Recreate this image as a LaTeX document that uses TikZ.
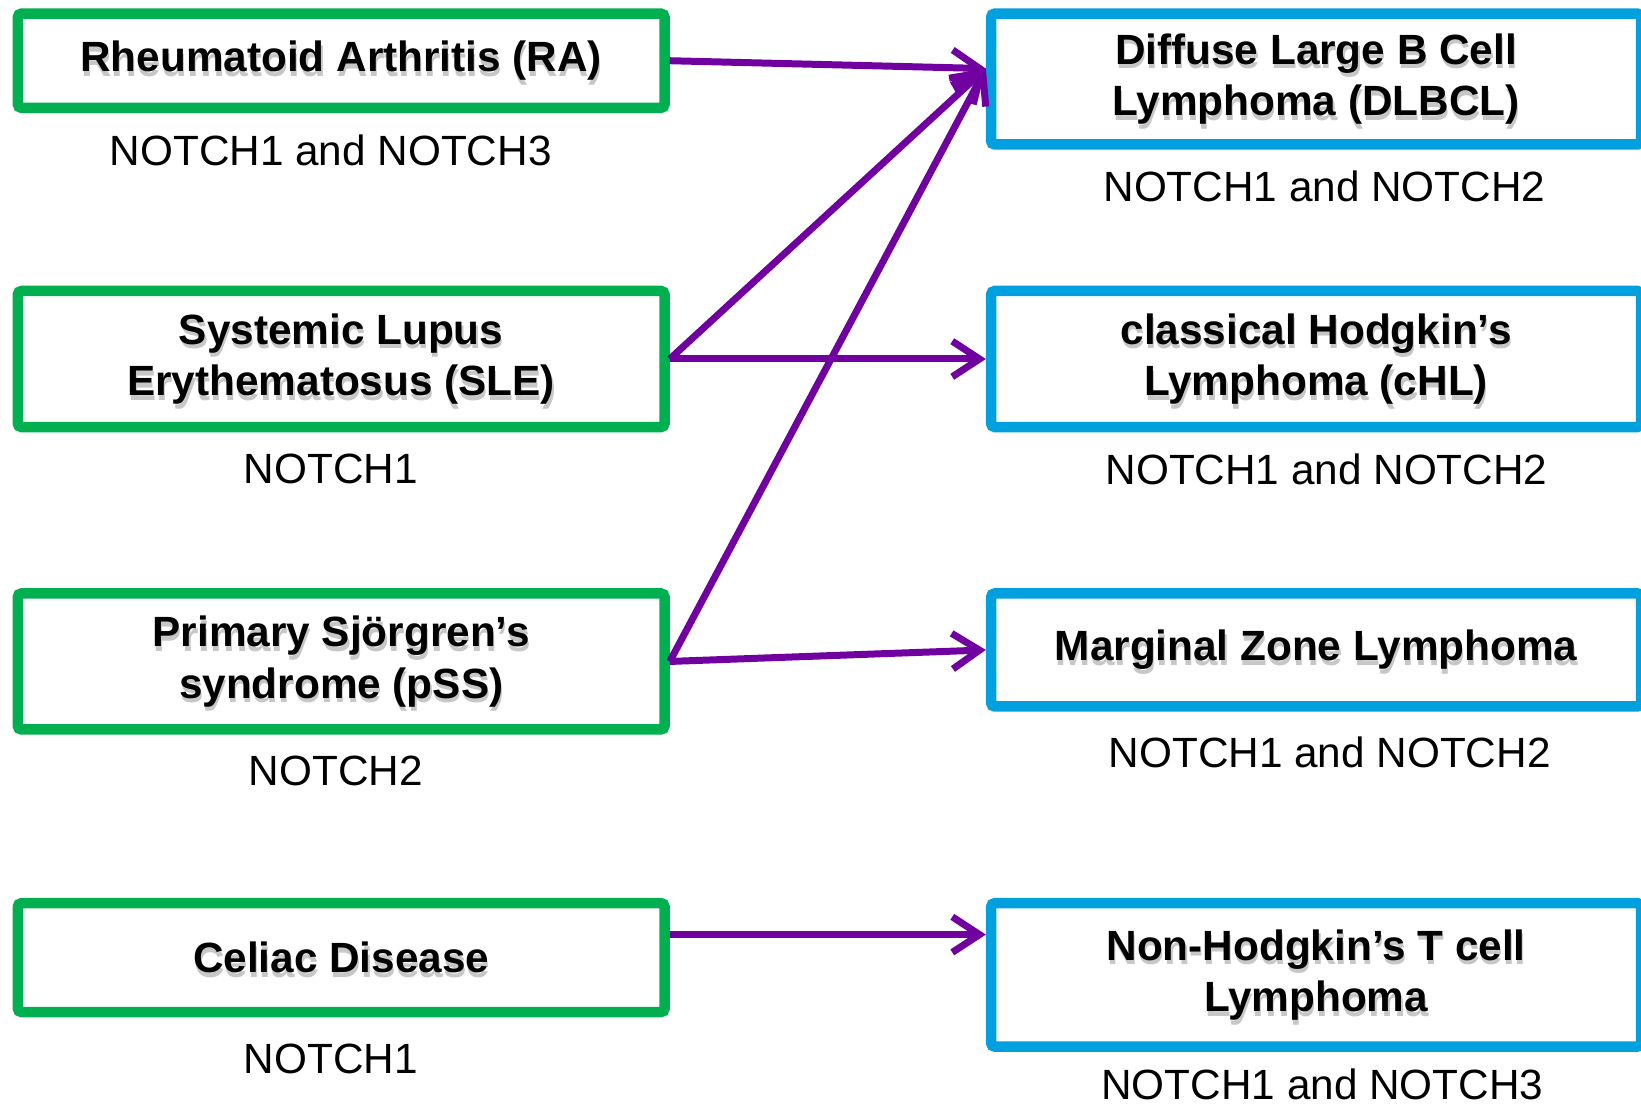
\documentclass[tikz,border=0pt]{standalone}
\usepackage{fontspec}
\setmainfont{Liberation Sans}
\usetikzlibrary{arrows.meta,calc,positioning}
\definecolor{disgreen}{RGB}{0,176,80}
\definecolor{lymblue}{RGB}{0,160,222}
\definecolor{linkpurple}{RGB}{112,0,160}
\tikzset{
  disbox/.style={draw=disgreen, line width=1mm, fill=white, rounded corners=1pt, minimum width=6.18cm, inner sep=0pt},
  lymbox/.style={draw=lymblue, line width=1mm, fill=white, rounded corners=1pt, minimum width=6.21cm, inner sep=0pt},
  boxtxt/.style={align=center, inner sep=0pt, font=\fontsize{11.5}{14}\selectfont\bfseries},
  gene/.style={inner sep=0pt, font=\fontsize{11.5}{14}\selectfont},
  link/.style={draw=linkpurple, line width=1.9pt, -{Straight Barb[length=2.6mm,width=3.4mm]}}
}
% bold box text with a soft grey shadow under it
\def\boxtext(#1)#2{\node[boxtxt, text=black!22] (#1-sh) at ([xshift=0.3pt,yshift=-1.2pt]#1.center) {#2};
  \node[boxtxt] (#1-txt) at (#1.center) {#2};}

\begin{document}
\begin{tikzpicture}
		%%%%% START %%%%%
		\useasboundingbox (0,0) rectangle (15.68,-10.55);
		
		% autoimmune diseases
		\node[disbox, minimum height=0.90cm] (ra) at (3.26,-0.58) {};
		\node[disbox, minimum height=1.30cm] (sle) at (3.26,-3.43) {};
		\node[disbox, minimum height=1.30cm] (pss) at (3.26,-6.32) {};
		\node[disbox, minimum height=1.04cm] (cel) at (3.26,-9.15) {};
		\boxtext(ra){Rheumatoid Arthritis (RA)}
		\boxtext(sle){Systemic Lupus\\Erythematosus (SLE)}
		\boxtext(pss){Primary Sjörgren’s\\syndrome (pSS)}
		\boxtext(cel){Celiac Disease}
		\node[gene, below=2mm of ra, xshift=-1mm] (ra-gene) {NOTCH1 and NOTCH3};
		\node[gene, below=2mm of sle, xshift=-1mm] (sle-gene) {NOTCH1};
		\node[gene, below=2mm of pss, xshift=-0.5mm] (pss-gene) {NOTCH2};
		\node[gene, below=2.5mm of cel, xshift=-1mm] (cel-gene) {NOTCH1};
		
		% lymphomas
		\node[lymbox, minimum height=1.25cm] (dlbcl) at (12.575,-0.755) {};
		\node[lymbox, minimum height=1.30cm] (chl) at (12.575,-3.43) {};
		\node[lymbox, minimum height=1.08cm] (mzl) at (12.575,-6.21) {};
		\node[lymbox, minimum height=1.37cm] (nhtl) at (12.575,-9.315) {};
		\boxtext(dlbcl){Diffuse Large B Cell\\Lymphoma (DLBCL)}
		\boxtext(chl){classical Hodgkin’s\\Lymphoma (cHL)}
		\boxtext(mzl){Marginal Zone Lymphoma}
		\boxtext(nhtl){Non-Hodgkin’s T cell\\Lymphoma}
		\node[gene, below=2mm of dlbcl, xshift=0.8mm] (dlbcl-gene) {NOTCH1 and NOTCH2};
		\node[gene, below=2mm of chl, xshift=1mm] (chl-gene) {NOTCH1 and NOTCH2};
		\node[gene, below=2.3mm of mzl, xshift=1.3mm] (mzl-gene) {NOTCH1 and NOTCH2};
		\node[gene, below=1.6mm of nhtl, xshift=0.6mm] (nhtl-gene) {NOTCH1 and NOTCH3};
		
		% links
		\coordinate (dlbcl-in) at ($(dlbcl.west)+(0,0.1)$);
		\coordinate (cel-out) at ($(cel.east)+(0,0.22)$);
		\coordinate (nhtl-in) at (nhtl.west |- cel-out);
		\draw[link] (ra.east) -- (dlbcl-in);
		\draw[link] (sle.east) -- (dlbcl-in);
		\draw[link] (sle.east) -- (chl.west);
		\draw[link] (pss.east) -- (dlbcl-in);
		\draw[link] (pss.east) -- (mzl.west);
		\draw[link] (cel-out) -- (nhtl-in);
		%%%%% END %%%%%
\end{tikzpicture}
\end{document}
